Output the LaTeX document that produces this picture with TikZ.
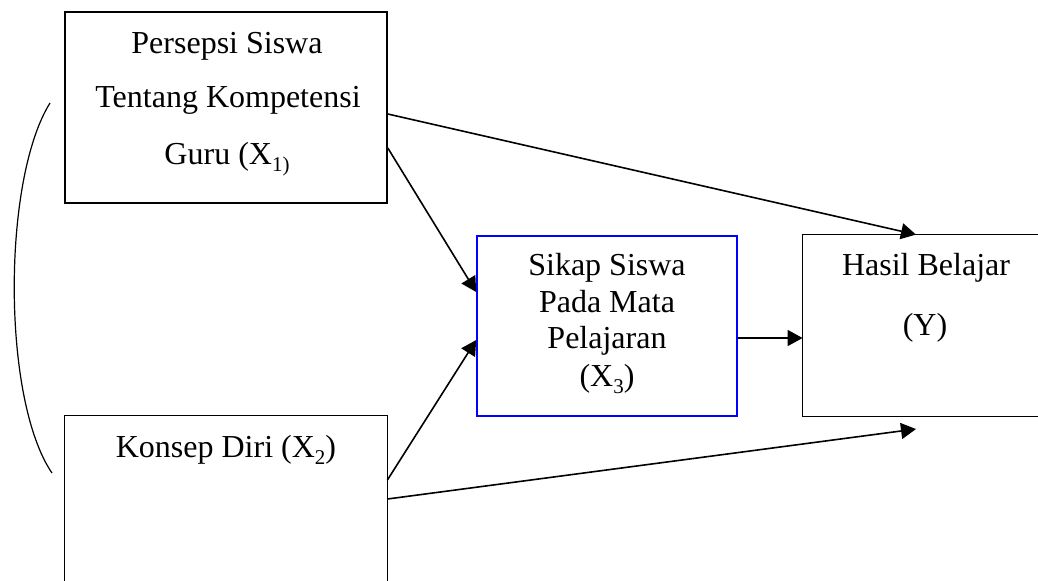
\documentclass[tikz,border=0pt]{standalone}
\usepackage{fontspec}
\setmainfont{Liberation Serif}
\usetikzlibrary{arrows.meta}
\newcommand\mysub[1]{\raisebox{-0.22em}{\fontsize{10.5pt}{10.5pt}\selectfont #1}}
\begin{document}
\begin{tikzpicture}[x=0.5pt,y=-0.5pt,
  box/.style={rectangle,inner sep=0pt},
  lbl/.style={anchor=base,inner sep=0pt,font=\fontsize{16pt}{19pt}\selectfont},
  conn/.style={line width=0.8pt,-{Triangle[length=7.5pt,width=8pt]}},
  edge/.style={line width=0.8pt}]
\useasboundingbox (0,0) rectangle (1038,580);
% boxes
\node[box,draw,line width=0.8pt,minimum width=161pt,minimum height=95.5pt] (x1) at (226,107.5) {};
\node[box,minimum width=161pt,minimum height=84pt] (x2) at (226,500) {};
\node[box,draw=blue,line width=0.8pt,minimum width=130pt,minimum height=90pt] (x3) at (607,326) {};
\node[box,minimum width=130pt,minimum height=90.5pt] (y) at (933,325.5) {};
\draw[edge] (x2.south west) -- (x2.north west) -- (x2.north east) -- (x2.south east);
\draw[edge] (y.north east) -- (y.north west) -- (y.south west) -- (y.south east);
% texts
\node[lbl] (t11) at (227,53) {Persepsi Siswa};
\node[lbl] (t12) at (228,107) {Tentang Kompetensi};
\node[lbl] (t13) at (227,164) {Guru (X\mysub{1)}};
\node[lbl] (t21) at (226,457) {Konsep Diri (X\mysub{2})};
\node[lbl] (t31) at (607,275) {Sikap Siswa};
\node[lbl] (t32) at (607,312) {Pada Mata};
\node[lbl] (t33) at (607,348) {Pelajaran};
\node[lbl] (t34) at (607,386) {(X\mysub{3})};
\node[lbl] (ty1) at (926,275) {Hasil Belajar};
\node[lbl] (ty2) at (925,335) {(Y)};
% correlation arc
\coordinate (arcTop) at (50,103);
\coordinate (arcBot) at (52,473);
\draw[line width=0.6pt] (arcTop) .. controls (2,180) and (2,400) .. (arcBot);
% connectors
\coordinate (freeEnd) at (916,429);
\draw[conn] ([yshift=-3.25pt]x1.east) -- ([xshift=-8.5pt]y.north);
\draw[conn] ([yshift=-20.25pt]x1.east) -- ([yshift=17pt]x3.west);
\draw[conn] ([yshift=10pt]x2.east) -- ([yshift=-7pt]x3.west);
\draw[conn] ([yshift=0.5pt]x2.east) -- (freeEnd);
\draw[conn] ([yshift=-6pt]x3.east) -- ([yshift=-6pt]x3.east -| y.west);
\end{tikzpicture}
\end{document}
